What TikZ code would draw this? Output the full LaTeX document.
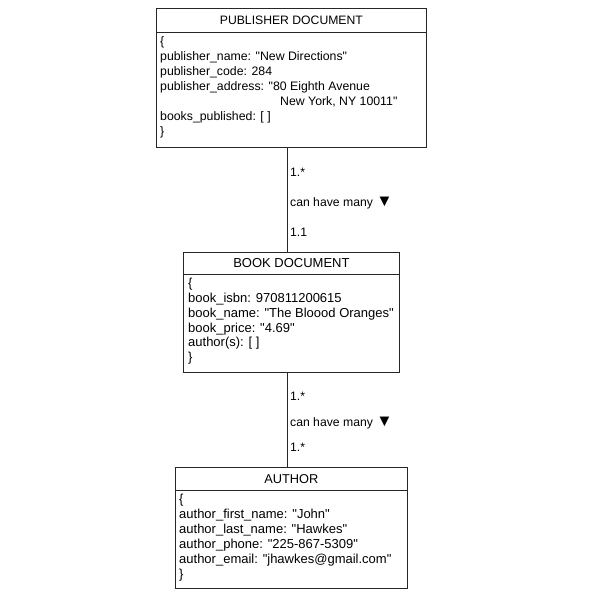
\documentclass[tikz,border=0pt]{standalone}
\usepackage{fontspec}
\newfontfamily\arialf{Liberation Sans}
\begin{document}
\begin{tikzpicture}[x=1pt,y=-1pt,
  hdr/.style={draw=black!85, line width=0.8pt, rectangle, inner sep=0pt, anchor=north west, align=center},
  bodybox/.style={draw=black!85, line width=0.8pt, rectangle, inner sep=0pt, anchor=north west},
  bodytxt/.style={inner sep=0pt, anchor=north west, align=left},
  lbl/.style={inner sep=0pt, anchor=west, font=\arialf\fontsize{12.2}{15}\selectfont},
  conn/.style={draw=black!85, line width=0.8pt}]
\useasboundingbox (0,0) rectangle (600,600);
% publisher
\node[hdr, minimum width=270pt, minimum height=24pt, font=\arialf\fontsize{12.2}{15}\selectfont] (pubh) at (156,8) {PUBLISHER DOCUMENT};
\node[bodybox, minimum width=270pt, minimum height=115pt] (pubb) at (156,32) {};
\node[bodytxt, font=\arialf\fontsize{12.3}{15}\selectfont] (pubt) at (160,36) {\{\\publisher\_name: "New Directions"\\publisher\_code: 284\\publisher\_address: "80 Eighth Avenue\\\hspace{120pt}New York, NY 10011"\\books\_published: [ ]\\\}};
% book
\node[hdr, minimum width=216pt, minimum height=22pt, font=\arialf\fontsize{13}{15}\selectfont] (bookh) at (183,252) {BOOK DOCUMENT};
\node[bodybox, minimum width=216pt, minimum height=98pt] (bookb) at (183,274) {};
\node[bodytxt, font=\arialf\fontsize{13}{14.8}\selectfont] (bookt) at (188,278) {\{\\book\_isbn: 970811200615\\book\_name: "The Bloood Oranges"\\book\_price: "4.69"\\author(s): [ ]\\\}};
% author
\node[hdr, minimum width=232pt, minimum height=23pt, font=\arialf\fontsize{12.8}{15}\selectfont] (auth) at (175,467) {AUTHOR};
\node[bodybox, minimum width=232pt, minimum height=98pt] (autb) at (175,490) {};
\node[bodytxt, font=\arialf\fontsize{13}{15}\selectfont] (autt) at (179,494) {\{\\author\_first\_name: "John"\\author\_last\_name: "Hawkes"\\author\_phone: "225-867-5309"\\author\_email: "jhawkes@gmail.com"\\\}};
% connectors
\draw[conn] ([xshift=-4pt]pubb.south) -- ([xshift=-4pt]bookh.north);
\draw[conn] ([xshift=-4pt]bookb.south) -- ([xshift=-4pt]auth.north);
% labels
\node[lbl] (l1) at (290,172) {1.*};
\node[lbl] (l2) at (290,203) {can have many {\fontsize{16.5}{15}\selectfont\raisebox{-0.5pt}{▼}}};
\node[lbl] (l3) at (290,232) {1.1};
\node[lbl] (l4) at (290,396) {1.*};
\node[lbl] (l5) at (290,423) {can have many {\fontsize{16.5}{15}\selectfont\raisebox{-0.5pt}{▼}}};
\node[lbl] (l6) at (290,447) {1.*};
\end{tikzpicture}
\end{document}
